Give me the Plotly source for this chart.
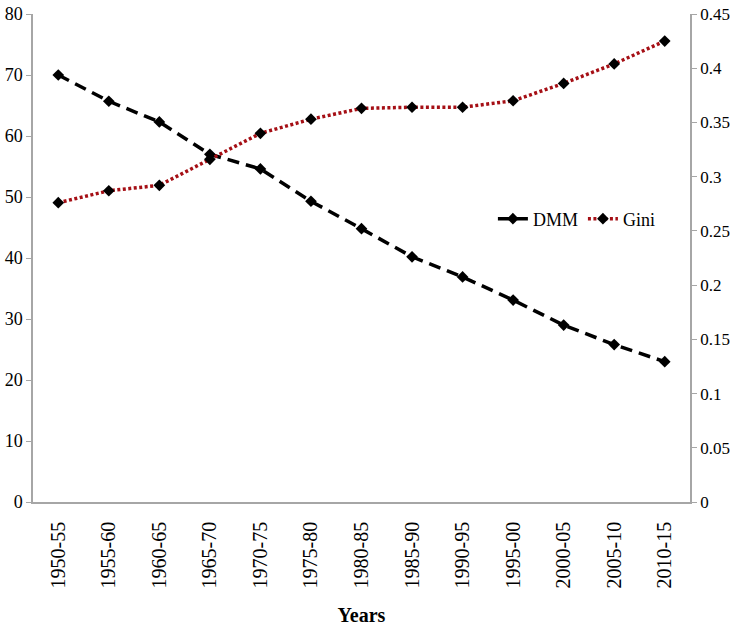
import plotly.graph_objects as go

years = ["1950-55", "1955-60", "1960-65", "1965-70", "1970-75", "1975-80", "1980-85",
         "1985-90", "1990-95", "1995-00", "2000-05", "2005-10", "2010-15"]
dmm = [70.0, 65.7, 62.3, 57.0, 54.6, 49.3, 44.8, 40.2, 36.9, 33.1, 29.0, 25.8, 23.0]
gini = [0.276, 0.287, 0.292, 0.316, 0.340, 0.353, 0.363, 0.364, 0.364, 0.370, 0.386, 0.404, 0.425]

FONT = "Liberation Serif"
AXIS_GREY = "#a6a6a6"

fig = go.Figure()

fig.add_trace(go.Scatter(
    x=years, y=dmm, name="DMM", mode="lines+markers",
    line=dict(color="black", width=3.5, dash="12px,7px"),
    marker=dict(symbol="diamond", size=9, color="black"),
))

fig.add_trace(go.Scatter(
    x=years, y=gini, name="Gini", mode="lines+markers", yaxis="y2",
    line=dict(color="#a50f15", width=3.5, dash="3px,2.5px"),
    marker=dict(symbol="diamond", size=9, color="black"),
))

fig.update_layout(
    width=734, height=626,
    margin=dict(l=33, r=44, t=14, b=124),
    paper_bgcolor="white", plot_bgcolor="white",
    font=dict(family=FONT, color="black", size=18),
    xaxis=dict(
        type="category",
        title=dict(text="<b>Years</b>", font=dict(size=20), standoff=24),
        tickangle=-90, tickfont=dict(size=20),
        showline=True, linecolor=AXIS_GREY, linewidth=1.5,
        ticks="outside", tickcolor="rgba(0,0,0,0)", ticklen=10,
        showgrid=False, range=[-0.5, 12.5], automargin=False,
    ),
    yaxis=dict(
        range=[0, 80], dtick=10, automargin=False,
        showline=True, linecolor=AXIS_GREY, linewidth=1.5,
        ticks="outside", tickcolor=AXIS_GREY, ticklen=5,
        showgrid=False, zeroline=False,
    ),
    yaxis2=dict(
        range=[0, 0.45], dtick=0.05, overlaying="y", side="right", automargin=False,
        showline=True, linecolor=AXIS_GREY, linewidth=1.5,
        ticks="outside", tickcolor=AXIS_GREY, ticklen=5,
        showgrid=False, zeroline=False, tickfont=dict(size=17),
    ),
    legend=dict(
        orientation="h", x=0.7, y=0.58, xanchor="left", yanchor="middle",
        font=dict(size=18), bgcolor="rgba(0,0,0,0)",
    ),
)

# drop the default 8px page margin so the figure fills the window
fig.write_html("out.html", config={"displayModeBar": False},
               post_script="document.body.style.margin = '0';")
